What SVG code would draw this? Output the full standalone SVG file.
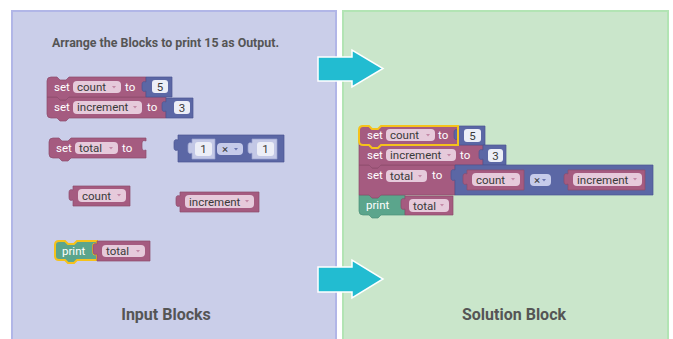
<svg xmlns="http://www.w3.org/2000/svg" width="673" height="339" viewBox="0 0 673 339">
<style>
.v{fill:#a55b80;stroke:#8c4a6c;stroke-width:0.7}
.m{fill:#5b67a5;stroke:#4a5592;stroke-width:0.7}
.p{fill:#5ba58c;stroke:#4a8f78;stroke-width:0.7}
.sh{fill:#c3c8e6;stroke:#9aa1cf;stroke-width:0.7}
.fv{fill:#e6cadb}
.fn{fill:#eceef7}
.fx{fill:#c6cbea}
.sel{fill:none;stroke:#f5c21b;stroke-width:2}
.bt{font-family:Roboto,"Liberation Sans",sans-serif;font-size:11.5px;fill:#ffffff}
.ft{font-family:Roboto,"Liberation Sans",sans-serif;font-size:11.5px;fill:#3a3a3a}
.ar{fill:#c48aa8}
.arm{fill:#6b76b0}
.ttl{font-family:Roboto,"Liberation Sans",sans-serif;font-weight:700;fill:#555555}
.arrow{fill:#22bcd1;stroke:#ffffff;stroke-width:1.5}
</style>
<rect width="673" height="339" fill="#ffffff"/>
<g id="panel-input">
<rect x="12" y="11" width="324" height="340" fill="#cacee9" stroke="#b1b6e7" stroke-width="2"/>
<text class="ttl" x="52" y="47" font-size="12.5" textLength="227" lengthAdjust="spacingAndGlyphs">Arrange the Blocks to print 15 as Output.</text>
<text class="ttl" x="166" y="320" font-size="16" text-anchor="middle">Input Blocks</text>
</g>
<g id="panel-solution">
<rect x="343" y="11" width="325" height="340" fill="#cae6cb" stroke="#b2e4b4" stroke-width="2"/>
<text class="ttl" x="514" y="320" font-size="16" text-anchor="middle">Solution Block</text>
</g>
<g id="connectors">
<path class="arrow" d="M318,57 H352 V50 L383,68.5 L352,87 V81 H318 Z"/>
<path class="arrow" d="M318,267 H352 V260 L383,279 L352,298 V292 H318 Z"/>
</g>

<g id="in-set-count-increment">
<path class="v" d="M47,97 H57 l3,3 h6 l3,-3 H166 V118 H69 l-3,3 h-6 l-3,-3 H51 Q47,118 47,114 Z"/>
<path class="v" d="M47,81 Q47,77 51,77 H57 l3,3 h6 l3,-3 H146 V97 H69 l-3,3 h-6 l-3,-3 H47 Z"/>
<path class="m" d="M146,77 H172 V97 H146 V91 c-3,1 -4,0 -4,-3 v-3 c0,-3 1,-4 4,-3 Z"/>
<path class="m" d="M166,98 H193 V118 H166 V111 c-3,1 -4,0 -4,-3 v-3 c0,-3 1,-4 4,-3 Z"/>
<text class="bt" x="54" y="91">set</text>
<rect class="fv" x="73" y="81" width="48" height="12" rx="4"/>
<text class="ft" x="77" y="91">count</text>
<path class="ar" d="M112,86 h4 l-2,2.5 Z"/>
<text class="bt" x="125" y="91">to</text>
<rect class="fn" x="152" y="80" width="16" height="13" rx="3"/>
<text class="ft" x="160" y="91" text-anchor="middle">5</text>
<text class="bt" x="54" y="111">set</text>
<rect class="fv" x="73" y="101" width="69" height="13" rx="4"/>
<text class="ft" x="77" y="111">increment</text>
<path class="ar" d="M133,106 h4 l-2,2.5 Z"/>
<text class="bt" x="147" y="111">to</text>
<rect class="fn" x="174" y="101" width="16" height="13" rx="3"/>
<text class="ft" x="182" y="111.5" text-anchor="middle">3</text>
</g>

<g id="in-set-total">
<path class="v" d="M49,142 Q49,138 53,138 H59 l3,3 h6 l3,-3 H146 V141 c-3,-1 -4,0 -4,3 v3 c0,3 1,4 4,3 V158 H71 l-3,3 h-6 l-3,-3 H53 Q49,158 49,154 Z"/>
<text class="bt" x="56" y="152">set</text>
<rect class="fv" x="75" y="142" width="43" height="12" rx="4"/>
<text class="ft" x="79" y="152">total</text>
<path class="ar" d="M109,147 h4 l-2,2.5 Z"/>
<text class="bt" x="122" y="152">to</text>
</g>

<g id="in-multiply">
<path class="m" d="M178,135 H284 V162 H178 V150 c-3,1 -4,0 -4,-3 v-4 c0,-3 1,-4 4,-3 Z"/>
<path class="sh" d="M192,139 H215 V159 H192 V153 c-3,1 -4,0 -4,-3 v-4 c0,-3 1,-4 4,-3 Z"/>
<rect class="fn" x="195" y="142" width="17" height="14" rx="3"/>
<text class="ft" x="203.5" y="153" text-anchor="middle">1</text>
<rect class="fx" x="217" y="143" width="26" height="12" rx="4"/>
<text class="ft" x="222" y="152.5" font-size="10">×</text>
<path class="arm" d="M234,148 h4 l-2,2.5 Z"/>
<path class="sh" d="M252,139 H277 V159 H252 V153 c-3,1 -4,0 -4,-3 v-4 c0,-3 1,-4 4,-3 Z"/>
<rect class="fn" x="257" y="142" width="17" height="14" rx="3"/>
<text class="ft" x="265.5" y="153" text-anchor="middle">1</text>
</g>

<g id="in-count">
<path class="v" d="M73,186 H130 V206 H73 V200 c-3,1 -4,0 -4,-3 v-4 c0,-3 1,-4 4,-3 Z"/>
<rect class="fv" x="78" y="189" width="48" height="13" rx="4"/>
<text class="ft" x="82" y="199.5">count</text>
<path class="ar" d="M117,194 h4 l-2,2.5 Z"/>
</g>

<g id="in-increment">
<path class="v" d="M180,192 H259 V212 H180 V206 c-3,1 -4,0 -4,-3 v-4 c0,-3 1,-4 4,-3 Z"/>
<rect class="fv" x="185" y="195" width="69" height="13" rx="4"/>
<text class="ft" x="189" y="205.5">increment</text>
<path class="ar" d="M245,200 h4 l-2,2.5 Z"/>
</g>

<g id="in-print">
<path class="p" d="M55,245 Q55,241 59,241 H65 l3,3 h6 l3,-3 H97 V244 c-3,-1 -4,0 -4,3 v4 c0,3 1,4 4,3 V260 H77 l-3,3 h-6 l-3,-3 H59 Q55,260 55,256 Z"/>
<path class="sel" d="M55,245 Q55,241 59,241 H65 l3,3 h6 l3,-3 H97 V244 c-3,-1 -4,0 -4,3 v4 c0,3 1,4 4,3 V260 H77 l-3,3 h-6 l-3,-3 H59 Q55,260 55,256 Z"/>
<path class="v" d="M97,241 H150 V261 H97 V254 c-3,1 -4,0 -4,-3 v-4 c0,-3 1,-4 4,-3 Z"/>
<text class="bt" x="62" y="255">print</text>
<rect class="fv" x="102" y="245" width="43" height="12" rx="4"/>
<text class="ft" x="106" y="255">total</text>
<path class="ar" d="M136,250 h4 l-2,2.5 Z"/>
</g>

<g id="sol-stack">
<path class="p" d="M359,195 H369 l3,3 h6 l3,-3 H405 V215 H381 l-3,3 h-6 l-3,-3 H363 Q359,215 359,211 Z"/>
<path class="v" d="M359,165 H369 l3,3 h6 l3,-3 H455 V195 H381 l-3,3 h-6 l-3,-3 H359 Z"/>
<path class="v" d="M359,145 H369 l3,3 h6 l3,-3 H483 V165 H381 l-3,3 h-6 l-3,-3 H359 Z"/>
<path class="v" d="M359,130 Q359,126 363,126 H369 l3,3 h6 l3,-3 H458 V145 H381 l-3,3 h-6 l-3,-3 H359 Z"/>
<path class="m" d="M458,126 H485 V145 H458 V139 c-3,1 -4,0 -4,-3 v-3 c0,-3 1,-4 4,-3 Z"/>
<path class="m" d="M483,145 H506 V165 H483 V159 c-3,1 -4,0 -4,-3 v-3 c0,-3 1,-4 4,-3 Z"/>
<path class="m" d="M455,165 H653 V195 H455 V180 c-3,1 -4,0 -4,-3 v-4 c0,-3 1,-4 4,-3 Z"/>
<path class="v" d="M467,170 H524 V190 H467 V184 c-3,1 -4,0 -4,-3 v-4 c0,-3 1,-4 4,-3 Z"/>
<path class="v" d="M568,170 H645 V190 H568 V184 c-3,1 -4,0 -4,-3 v-4 c0,-3 1,-4 4,-3 Z"/>
<path class="v" d="M405,196 H453 V215 H405 V209 c-3,1 -4,0 -4,-3 v-4 c0,-3 1,-4 4,-3 Z"/>
<path class="sel" d="M359,130 Q359,126 363,126 H369 l3,3 h6 l3,-3 H458 V145 H381 l-3,3 h-6 l-3,-3 H363 Q359,145 359,141 Z"/>

<text class="bt" x="367" y="139">set</text>
<rect class="fv" x="386" y="129" width="49" height="12" rx="4"/>
<text class="ft" x="390" y="139">count</text>
<path class="ar" d="M426,134 h4 l-2,2.5 Z"/>
<text class="bt" x="438" y="139">to</text>
<rect class="fn" x="464" y="129" width="17" height="13" rx="3"/>
<text class="ft" x="472.5" y="139.5" text-anchor="middle">5</text>

<text class="bt" x="367" y="159">set</text>
<rect class="fv" x="386" y="149" width="70" height="12" rx="4"/>
<text class="ft" x="390" y="159">increment</text>
<path class="ar" d="M447,154 h4 l-2,2.5 Z"/>
<text class="bt" x="460" y="159">to</text>
<rect class="fn" x="488" y="149" width="15" height="13" rx="3"/>
<text class="ft" x="495.5" y="159.5" text-anchor="middle">3</text>

<text class="bt" x="367" y="179">set</text>
<rect class="fv" x="386" y="170" width="41" height="12" rx="4"/>
<text class="ft" x="390" y="180">total</text>
<path class="ar" d="M418,175 h4 l-2,2.5 Z"/>
<text class="bt" x="432" y="179">to</text>

<rect class="fv" x="472" y="173" width="48" height="13" rx="4"/>
<text class="ft" x="476" y="183.5">count</text>
<path class="ar" d="M511,178 h4 l-2,2.5 Z"/>
<rect class="fx" x="530" y="174" width="21" height="12" rx="4"/>
<text class="ft" x="534" y="183.5" font-size="10">×</text>
<path class="arm" d="M542,179 h4 l-2,2.5 Z"/>
<rect class="fv" x="573" y="173" width="69" height="13" rx="4"/>
<text class="ft" x="577" y="183.5">increment</text>
<path class="ar" d="M633,178 h4 l-2,2.5 Z"/>

<text class="bt" x="366" y="209">print</text>
<rect class="fv" x="409" y="199" width="40" height="13" rx="4"/>
<text class="ft" x="413" y="209.5">total</text>
<path class="ar" d="M440,204 h4 l-2,2.5 Z"/>
</g>
</svg>
